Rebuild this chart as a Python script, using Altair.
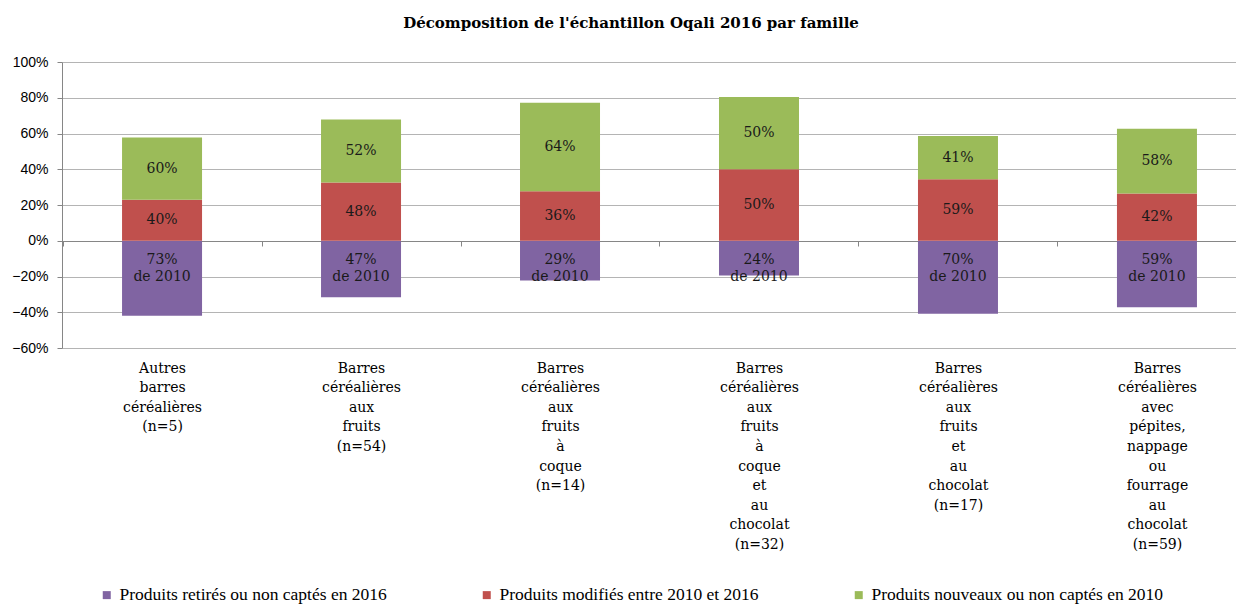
import altair as alt
import pandas as pd

categories = [
    "Autres barres céréalières (n=5)",
    "Barres céréalières aux fruits (n=54)",
    "Barres céréalières aux fruits à coque (n=14)",
    "Barres céréalières aux fruits à coque et au chocolat (n=32)",
    "Barres céréalières aux fruits et au chocolat (n=17)",
    "Barres céréalières avec pépites, nappage ou fourrage au chocolat (n=59)",
]
series = [
    "Produits retirés ou non captés en 2016",
    "Produits modifiés entre 2010 et 2016",
    "Produits nouveaux ou non captés en 2010",
]
colors = ["#8064A2", "#C0504D", "#9BBB59"]

retires = [-0.419, -0.316, -0.223, -0.195, -0.409, -0.372]
modifies = [0.229, 0.326, 0.277, 0.400, 0.344, 0.265]
nouveaux = [0.348, 0.353, 0.495, 0.404, 0.242, 0.362]

lab_retires = ["73%", "47%", "29%", "24%", "70%", "59%"]
lab_modifies = ["40%", "48%", "36%", "50%", "59%", "42%"]
lab_nouveaux = ["60%", "52%", "64%", "50%", "41%", "58%"]

y_ticks = [-0.6, -0.4, -0.2, 0, 0.2, 0.4, 0.6, 0.8, 1.0]

title_text = "Décomposition de l'échantillon Oqali 2016 par famille"

rows = []
for i, c in enumerate(categories):
    for k, (s, vals) in enumerate(zip(series, [retires, modifies, nouveaux])):
        rows.append({"cat": c, "serie": s, "ordre": k, "val": vals[i]})
df = pd.DataFrame(rows)

lab = pd.DataFrame({
    "cat": categories,
    "m": modifies,
    "n": nouveaux,
    "lr": [p + "\nde 2010" for p in lab_retires],
    "lm": lab_modifies,
    "ln": lab_nouveaux,
})
lab["z"] = 0.0
lab["ym"] = lab["m"] / 2
lab["yn"] = lab["m"] + lab["n"] / 2

yscale = alt.Scale(domain=[-0.6, 1.0], nice=False)
xscale = alt.Scale(paddingInner=0.598, paddingOuter=0.249, align=0.606)

x_axis = alt.Axis(
    title=None,
    offset=-107,
    domain=True, domainColor="#868686", domainWidth=1,
    ticks=True, tickColor="#868686", tickSize=5, tickOffset=-99.5,
    labelOffset=99.5, labelPadding=115, labelAngle=0,
    labelExpr="split(datum.label, ' ')",
    labelFont="DejaVu Serif", labelFontSize=14, labelLineHeight=19.6,
    labelColor="#000000", labelBaseline="top", labelAlign="center",
    labelOverlap=False, labelLimit=300, labelBound=False,
    grid=False,
)
y_axis = alt.Axis(
    title=None, values=y_ticks, tickCount=20,
    format=".0%", labelFont="Liberation Sans", labelFontSize=14,
    labelColor="#000000", labelPadding=9, labelOverlap=False,
    domain=True, domainColor="#868686", ticks=True, tickColor="#868686",
    tickSize=5, grid=True, gridColor="#B4B4B4", gridWidth=1,
)

bars = alt.Chart(df).mark_bar(size=80).encode(
    x=alt.X("cat:N", sort=categories, scale=xscale, axis=x_axis, title=None),
    y=alt.Y("val:Q", scale=yscale, axis=y_axis, title=None, stack="zero"),
    color=alt.Color(
        "serie:N",
        scale=alt.Scale(domain=series, range=colors),
        legend=alt.Legend(
            orient="none", legendX=36, legendY=524, direction="horizontal",
            columns=3, title=None, symbolType="square", symbolSize=64,
            symbolStrokeWidth=0, labelFont="Liberation Serif", labelFontSize=17.5,
            labelColor="#000000", columnPadding=91, padding=0, labelOffset=4,
            labelLimit=400,
        ),
    ),
    order=alt.Order("ordre:Q", sort="ascending"),
)

txt_style = dict(font="DejaVu Serif", fontSize=14, color="#1a1a1a")

t_new = alt.Chart(lab).mark_text(baseline="middle", **txt_style).encode(
    x=alt.X("cat:N", sort=categories, scale=xscale, title=None),
    y=alt.Y("yn:Q", scale=yscale, title=None),
    text="ln:N",
)
t_mod = alt.Chart(lab).mark_text(baseline="middle", **txt_style).encode(
    x=alt.X("cat:N", sort=categories, scale=xscale, title=None),
    y=alt.Y("ym:Q", scale=yscale, title=None),
    text="lm:N",
)
t_ret = alt.Chart(lab).mark_text(
    baseline="top", dy=12, lineBreak="\n", lineHeight=17, **txt_style
).encode(
    x=alt.X("cat:N", sort=categories, scale=xscale, title=None),
    y=alt.Y("z:Q", scale=yscale, title=None),
    text="lr:N",
)

chart = alt.layer(bars, t_new, t_mod, t_ret).properties(
    width=1174,
    height=286,
    autosize=alt.AutoSizeParams(type="none"),
    padding={"left": 54, "top": 54, "right": 0, "bottom": 259},
    title=alt.Title(
        title_text, font="DejaVu Serif", fontSize=15, fontWeight="bold",
        color="#000000", anchor="middle", frame="group", dx=-18, offset=24,
    ),
).configure_view(stroke=None).configure_axis(labelOverlap=False)

chart.save("out.html", embed_options={"renderer": "svg", "actions": False})
